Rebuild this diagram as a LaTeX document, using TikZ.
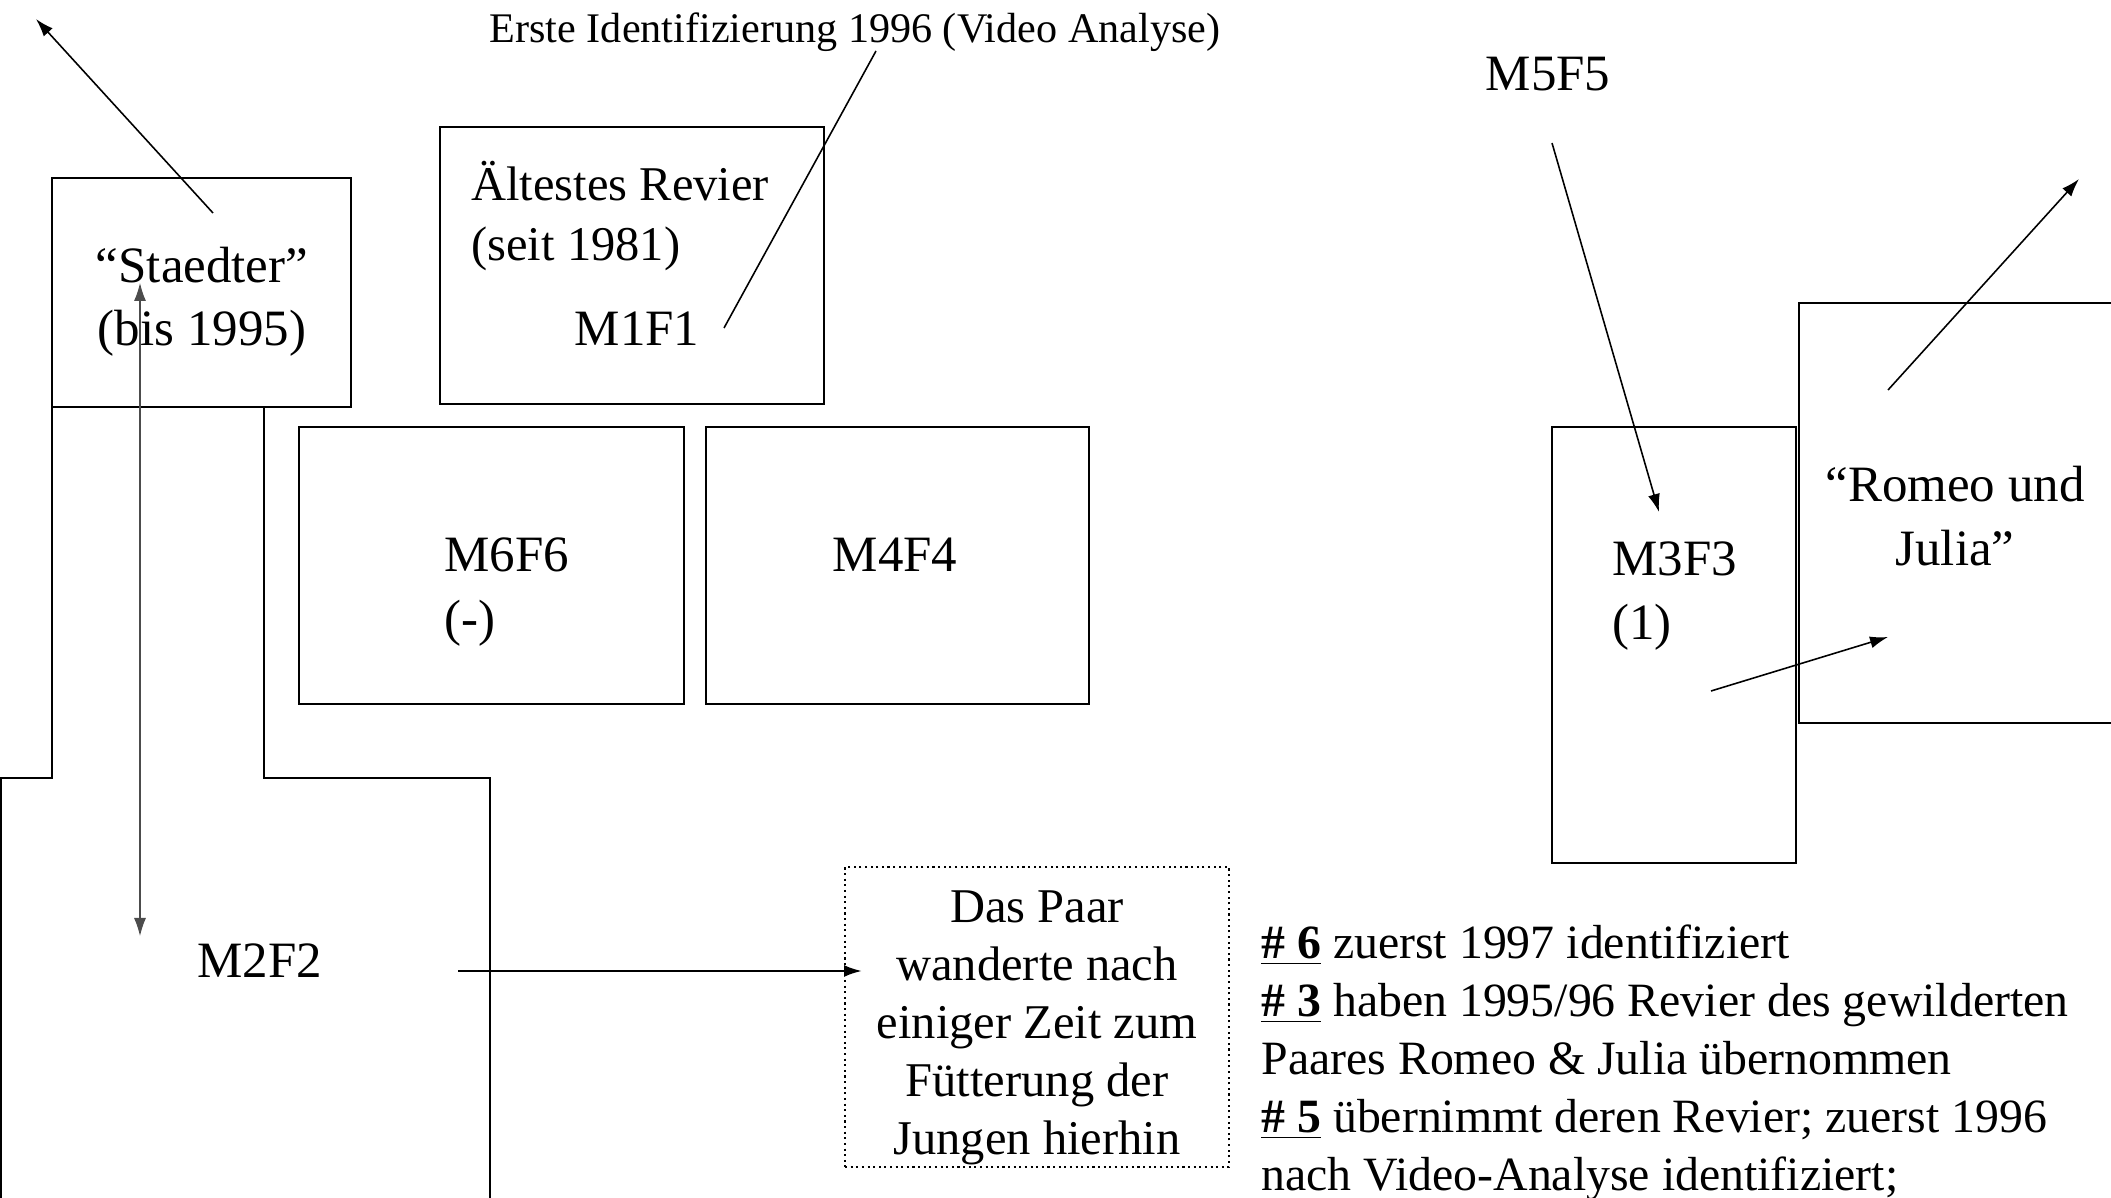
\documentclass[tikz,border=0pt]{standalone}
\usepackage{fontspec}
\setmainfont{Liberation Serif}
\usetikzlibrary{arrows.meta}

\tikzset{
  revier/.style={line width=0.8pt},
  pfeil/.style={-{Latex[length=1.8mm,width=1.2mm]}, line width=0.45pt},
  gross/.style={font=\fontsize{14.5}{18}\selectfont},
  notiz/.style={font=\fontsize{13.8}{16.5}\selectfont}
}

\begin{document}
\begin{tikzpicture}[x=0.1mm, y=-0.1mm]
\useasboundingbox (0,0) rectangle (2111,1198);

% Reviere links
\draw[revier] (52,178) rectangle (351,407);
\draw[revier] (440,127) rectangle (824,404);
\draw[revier] (299,427) rectangle (684,704);
\draw[revier] (706,427) rectangle (1089,704);

% Revier M2F2
\draw[revier] (52,407) -- (52,778) -- (1,778) -- (1,1198);
\draw[revier] (264,407) -- (264,778) -- (490,778) -- (490,1198);

% Reviere rechts
\draw[revier] (1552,427) rectangle (1796,863);
\draw[revier] (2115,303) -- (1799,303) -- (1799,723) -- (2115,723);

\node[font=\fontsize{12}{14}\selectfont] (titel) at (855,32) {Erste Identifizierung 1996 (Video Analyse)};

\node[gross, align=center] (staedter) at (202,302) {``Staedter''\\(bis 1995)};
\node[gross, font=\fontsize{13.8}{17}\selectfont, align=left, anchor=west] (aelt) at (459,216) {Ältestes Revier\\(seit 1981)};
\node[gross] (m1f1) at (637,329) {M1F1};
\node[gross, align=left, anchor=west] (m6f6) at (432,592) {M6F6\\(-)};
\node[gross] (m4f4) at (895,555) {M4F4};
\node[gross] (m2f2) at (260,961) {M2F2};
\node[gross] (m5f5) at (1548,74) {M5F5};
\node[gross, align=left, anchor=west] (m3f3) at (1600,596) {M3F3\\(1)};
\node[gross, align=center] (romeo) at (1955,516) {``Romeo und\\Julia''};

\node[draw, densely dotted, line width=0.6pt, minimum width=38.4mm, minimum height=30mm] (paar) at (1037,1017) {};
\node[notiz, align=center] (paartext) at (1037,1028)
  {Das Paar\\wanderte nach\\einiger Zeit zum\\Fütterung der\\Jungen hierhin};

\node[notiz, font=\fontsize{13.6}{16.5}\selectfont, align=left, anchor=base west] (legende) at (1249,1190)
  {\underline{\textbf{\# 6}} zuerst 1997 identifiziert\\
   \underline{\textbf{\# 3}} haben 1995/96 Revier des gewilderten\\
   Paares Romeo \& Julia übernommen\\
   \underline{\textbf{\# 5}} übernimmt deren Revier; zuerst 1996\\
   nach Video-Analyse identifiziert;};

% Pfeile
\coordinate (staedterweg) at (36,19);
\coordinate (staedterstart) at (213,213);
\coordinate (titelfuss) at (876,51);
\coordinate (m1f1zeig) at (724,328);
\coordinate (oben) at (140,283);
\coordinate (unten) at (140,936);
\coordinate (m2f2start) at (458,971);
\coordinate (paarziel) at (862,971);
\coordinate (m5f5start) at (1552,143);
\coordinate (m3f3ziel) at (1659,512);
\coordinate (m3f3start) at (1711,691);
\coordinate (romeoziel) at (1888,637);
\coordinate (romeostart) at (1888,390);
\coordinate (romeoweg) at (2079,179);

\draw[pfeil] (staedterstart) -- (staedterweg);
\draw[line width=0.45pt] (titelfuss) -- (m1f1zeig);
\draw[{Latex[length=1.8mm,width=1.2mm]}-{Latex[length=1.8mm,width=1.2mm]}, line width=0.3pt, black!70] (oben) -- (unten);
\draw[pfeil, line width=0.7pt] (m2f2start) -- (paarziel);
\draw[pfeil] (m5f5start) -- (m3f3ziel);
\draw[pfeil] (m3f3start) -- (romeoziel);
\draw[pfeil] (romeostart) -- (romeoweg);

\end{tikzpicture}
\end{document}
